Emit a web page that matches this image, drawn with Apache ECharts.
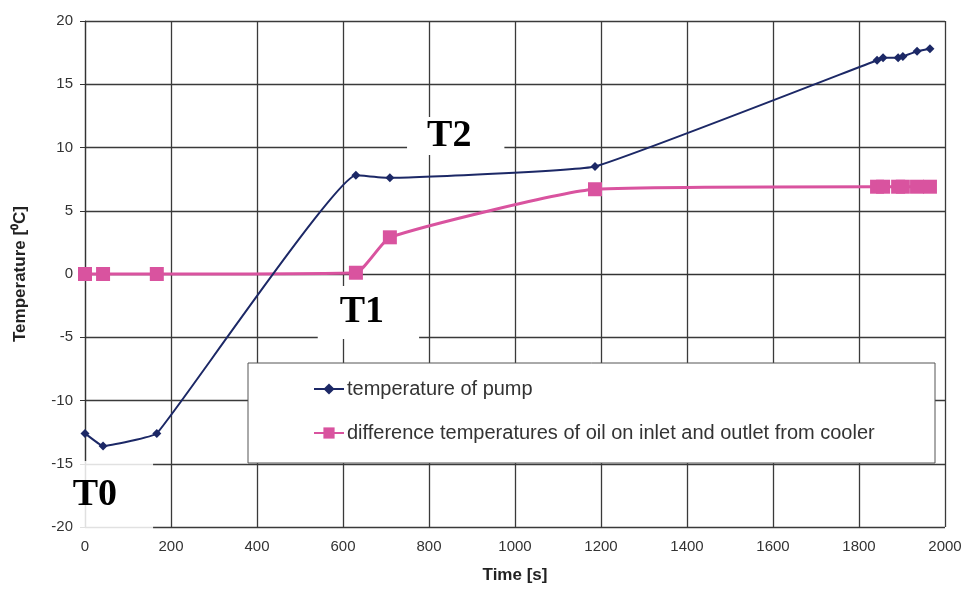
<!DOCTYPE html>
<html><head><meta charset="utf-8">
<script src="https://cdn.jsdelivr.net/npm/echarts@6/dist/echarts.min.js"></script>
<style>html,body{margin:0;padding:0;background:#fff}#c{width:966px;height:590px}</style>
</head><body><div id="c"></div>
<script>
const timeS = [0, 42, 167, 630, 709, 1186, 1842, 1856, 1891, 1902, 1935, 1965];
const pumpTemp = [-12.6, -13.6, -12.6, 7.8, 7.6, 8.5, 16.9, 17.1, 17.1, 17.2, 17.6, 17.8];
const oilDiff = [0, 0, 0, 0.1, 2.9, 6.7, 6.9, 6.9, 6.9, 6.9, 6.9, 6.9];
const xTicks = [0, 200, 400, 600, 800, 1000, 1200, 1400, 1600, 1800, 2000];
const yTicks = [-20, -15, -10, -5, 0, 5, 10, 15, 20];
const notes = [
  {t: 'T0', x: 23, y: -17.0, pad: [9, 36, 21, 0], bg: 'rgba(255,255,255,0.85)'},
  {t: 'T1', x: 644, y: -3.16, pad: [9, 35, 6, 22], bg: '#fff'},
  {t: 'T2', x: 847, y: 10.9, pad: [0, 33, 0, 20], bg: '#fff'}
];
const seriesNames = ['temperature of pump', 'difference temperatures of oil on inlet and outlet from cooler'];

const chart = echarts.init(document.getElementById('c'));
const font = 'Liberation Sans, Arial, sans-serif';
chart.setOption({
  animation: false,
  grid: {left: 85, right: 21, top: 21, bottom: 63},
  xAxis: {type: 'value', min: xTicks[0], max: xTicks[xTicks.length - 1], interval: 200,
    name: 'Time [s]', nameLocation: 'middle', nameGap: 40,
    nameTextStyle: {fontFamily: font, fontWeight: 'bold', fontSize: 17, color: '#222'},
    axisLine: {lineStyle: {color: '#333', width: 1.2}},
    axisTick: {length: 5, lineStyle: {color: '#333'}},
    axisLabel: {fontFamily: font, fontSize: 15, color: '#333', margin: 12, formatter: v => String(v)},
    splitLine: {lineStyle: {color: '#3a3a3a', width: 1.3}}},
  yAxis: {type: 'value', min: yTicks[0], max: yTicks[yTicks.length - 1], interval: 5,
    name: 'Temperature [⁰C]', nameLocation: 'middle', nameGap: 56, nameRotate: 90,
    nameTextStyle: {fontFamily: font, fontWeight: 'bold', fontSize: 17, color: '#222'},
    axisLine: {show: true, lineStyle: {color: '#333', width: 1.2}},
    axisTick: {show: true, length: 5, lineStyle: {color: '#333'}},
    axisLabel: {fontFamily: font, fontSize: 15, color: '#333', margin: 12},
    splitLine: {lineStyle: {color: '#3a3a3a', width: 1.3}}},
  legend: {left: 313, top: 379, orient: 'vertical', z: 20,
    padding: 0, itemGap: 24, itemWidth: 30, itemHeight: 14,
    textStyle: {fontFamily: font, fontSize: 20, color: '#333', padding: [0, 0, 0, -2]},
    data: seriesNames},
  series: [
    {name: seriesNames[0], type: 'line', smooth: 0.09,
     data: timeS.map((t, i) => [t, pumpTemp[i]]),
     symbol: 'diamond', symbolSize: 9, color: '#1c2866',
     lineStyle: {width: 2, color: '#1c2866'}, itemStyle: {color: '#1c2866'}, z: 3},
    {name: seriesNames[1], type: 'line', smooth: 0.15,
     data: timeS.map((t, i) => [t, oilDiff[i]]),
     symbol: 'rect', symbolSize: 14, color: '#d9539f',
     lineStyle: {width: 3, color: '#d9539f'}, itemStyle: {color: '#d9539f'}, z: 2}
  ]
});
const g = notes.map(n => {
  const p = chart.convertToPixel({gridIndex: 0}, [n.x, n.y]);
  return {type: 'text', z: 100,
    x: p[0] + (n.pad[1] - n.pad[3]) / 2, y: p[1] + (n.pad[2] - n.pad[0]) / 2,
    style: {text: n.t, font: 'bold 38px "Liberation Serif", "Times New Roman", serif', fill: '#000',
      align: 'center', verticalAlign: 'middle', backgroundColor: n.bg, padding: n.pad}};
});
g.push({type: 'rect', z: 10, shape: {x: 248, y: 363, width: 687, height: 100},
  style: {fill: '#fff', stroke: '#555', lineWidth: 1}});
chart.setOption({graphic: g});
</script></body></html>
